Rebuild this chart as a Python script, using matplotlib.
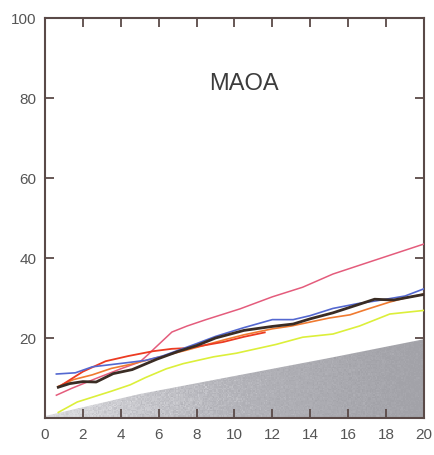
import numpy as np
import matplotlib.pyplot as plt
from matplotlib.patches import Polygon
from matplotlib.colors import LinearSegmentedColormap

# values (age in years vs. cumulative %)
pink_x = [0.6, 1.4, 2.7, 4.0, 5.0, 5.45, 5.8, 6.7, 7.5, 8.5, 10.3, 12.0, 13.6, 15.2, 17.5, 20.0]
pink_y = [5.7, 7.4, 9.9, 12.3, 14.0, 15.9, 17.5, 21.5, 23.0, 24.6, 27.3, 30.3, 32.7, 36.0, 39.6, 43.5]

blue_x = [0.6, 1.6, 2.5, 4.1, 5.3, 6.2, 8.0, 9.0, 10.5, 12.0, 13.1, 14.0, 15.2, 16.5, 17.5, 19.0, 20.0]
blue_y = [11.0, 11.3, 12.8, 13.7, 14.4, 15.5, 18.6, 20.4, 22.6, 24.6, 24.6, 25.6, 27.4, 28.6, 29.3, 30.5, 32.3]

red_x = [0.7, 2.0, 3.2, 4.4, 5.7, 6.7, 7.6, 8.2, 9.4, 10.5, 11.6]
red_y = [7.7, 11.6, 14.2, 15.5, 16.7, 17.3, 17.5, 18.0, 19.0, 20.3, 21.4]

orange_x = [0.7, 1.5, 2.5, 3.5, 4.5, 5.5, 6.5, 7.5, 8.5, 9.5, 10.5, 12.0, 13.0, 14.0, 15.0, 16.1, 17.0, 18.2, 19.0, 20.0]
orange_y = [7.9, 9.6, 10.8, 12.4, 13.4, 14.6, 15.8, 17.0, 18.3, 19.6, 20.8, 22.3, 23.0, 24.0, 25.0, 25.8, 27.2, 29.0, 30.0, 31.0]

black_x = [0.7, 1.3, 2.0, 2.7, 3.6, 4.6, 5.9, 7.0, 8.0, 9.0, 10.5, 12.0, 13.1, 14.0, 15.2, 16.5, 17.4, 18.4, 20.0]
black_y = [7.7, 8.6, 9.1, 9.0, 11.1, 12.1, 14.7, 16.6, 18.1, 20.0, 21.9, 22.9, 23.5, 24.8, 26.3, 28.3, 29.7, 29.5, 30.9]

yellow_x = [0.7, 1.7, 2.5, 3.5, 4.5, 5.3, 6.4, 7.3, 8.9, 10.1, 12.2, 13.6, 15.2, 16.6, 18.2, 20.0]
yellow_y = [1.4, 4.0, 5.2, 6.7, 8.3, 10.1, 12.3, 13.6, 15.3, 16.2, 18.4, 20.2, 21.0, 23.0, 26.0, 26.9]

# grey band (upper edge)
grey_x = [0, 5, 10, 15, 20]
grey_y = [0.5, 6.0, 10.5, 15.0, 19.7]

x_ticks = list(range(0, 21, 2))
y_ticks = [20, 40, 60, 80, 100]

edge = '#5a4a48'
txt = '#555555'

fig = plt.figure(figsize=(4.34, 4.55), dpi=100)
ax = fig.add_axes([0.1037, 0.0813, 0.873, 0.879])

# grey stippled band: gradient image clipped to the band polygon
verts = list(zip(grey_x, grey_y)) + [(20, 0), (0, 0)]
poly = Polygon(verts, closed=True, facecolor='none', edgecolor='none')
ax.add_patch(poly)
cmap = LinearSegmentedColormap.from_list('scan', ['#dcdce0', '#b4b4ba', '#a2a2a8'])
gx = np.linspace(0, 1, 300)
grad = np.tile(gx, (60, 1))
rng = np.random.default_rng(3)
grad = grad + rng.normal(0, 0.07, grad.shape)
im = ax.imshow(grad, extent=[0, 20, 0, max(grey_y)], origin='lower',
               cmap=cmap, vmin=0, vmax=1, aspect='auto', zorder=1,
               interpolation='nearest')
im.set_clip_path(poly)

ax.plot(yellow_x, yellow_y, color='#dcef3a', lw=1.2, zorder=3)
ax.plot(pink_x, pink_y, color='#e45c7c', lw=1.1, zorder=3)
ax.plot(orange_x, orange_y, color='#f07a30', lw=1.2, zorder=3)
ax.plot(red_x, red_y, color='#ec3b22', lw=1.3, zorder=4)
ax.plot(blue_x, blue_y, color='#5468d0', lw=1.2, zorder=4)
ax.plot(black_x, black_y, color='#3a2c24', lw=2.0, zorder=5)

ax.text(10.5, 83.5, 'MAOA', ha='center', va='center', fontsize=17,
        color='#3c3c3c', family='Liberation Sans')

ax.set_xlim(0, 20)
ax.set_ylim(0, 100)
ax.set_xticks(x_ticks)
ax.set_yticks(y_ticks)
ax.set_xticklabels([str(v) for v in x_ticks], family='Liberation Sans', fontsize=11, color=txt)
ax.set_yticklabels([str(v) for v in y_ticks], family='Liberation Sans', fontsize=11, color=txt)
ax.tick_params(axis='both', direction='in', length=6.5, width=1.3, color=edge,
               top=True, right=True, pad=6)
ax.tick_params(axis='x', pad=7)
for s in ax.spines.values():
    s.set_color(edge)
    s.set_linewidth(1.5)

fig.savefig('out.png', dpi=100)
